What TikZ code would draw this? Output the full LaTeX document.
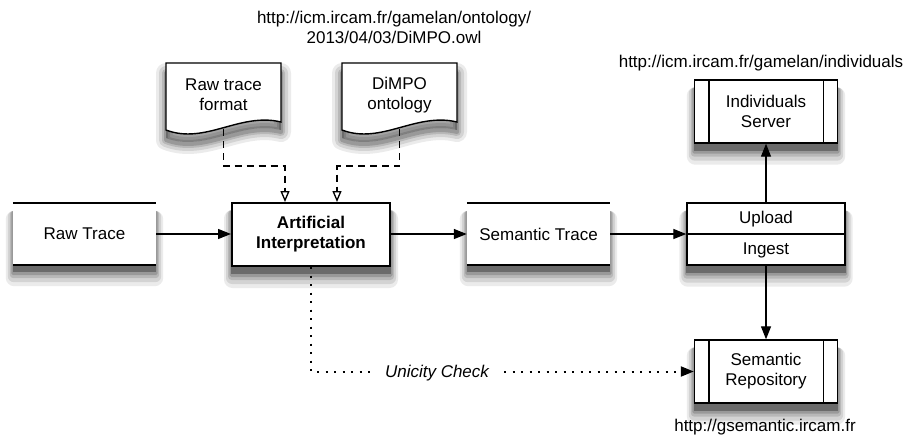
\documentclass[tikz,border=0pt]{standalone}
\usepackage{fontspec}
\setmainfont{Liberation Sans}
\usetikzlibrary{arrows.meta,backgrounds}
\newcommand{\rshad}[1]{%
  \foreach \w/\o in {14/0.08,10/0.1,6/0.13,3/0.17,0/0.3}{%
    \fill[black, fill opacity=\o, rounded corners=0.6*\w pt]
      ([shift={(-0.5*\w,8)}]#1.north west) rectangle ([shift={(0.5*\w,\w+7)}]#1.south east);}}
\newcommand{\docpath}[1]{(#1,63) -- (#1+115,63) -- (#1+115,122) .. controls (#1+74,112) and (#1+39,145) .. (#1,130) -- cycle}
\newcommand{\dshad}[1]{%
  \foreach \w/\o in {20/0.08,14/0.1,8/0.13,4/0.17}{%
    \draw[black, draw opacity=\o, line width=\w pt, line join=round, shift={(0,10)}] \docpath{#1};}
  \fill[black, fill opacity=0.3, shift={(0,8)}] \docpath{#1};}
\begin{document}
\begin{tikzpicture}[x=1pt,y=-1pt,
  font=\fontsize{17}{20}\selectfont,
  box/.style={draw, line width=1.4pt, fill=white, align=center, inner sep=0pt},
  store/.style={fill=white, align=center, inner sep=0pt, minimum width=143pt, minimum height=62pt},
  lbl/.style={align=center, inner sep=0pt},
  arr/.style={line width=1.3pt, -{Triangle[length=13pt,width=10pt]}},
  dsh/.style={line width=1.3pt, dash pattern=on 7pt off 5pt, -{Triangle[open,length=11pt,width=9pt]}},
  dot/.style={line width=2pt, dash pattern=on 2pt off 6.5pt, -{Triangle[length=13pt,width=10pt]}}
]
\useasboundingbox (0,0) rectangle (913,436);

% top URL
\node[lbl] (ourl) at (394,27) {http://icm.ircam.fr/gamelan/ontology/\\2013/04/03/DiMPO.owl};

% document shapes
\path[draw, line width=1.4pt, fill=white] \docpath{166};
\node[lbl] (rawfmt) at (223.5,95) {Raw trace\\format};
\coordinate (rawfmtb) at (223.5,129);
\path[draw, line width=1.4pt, fill=white] \docpath{342};
\node[lbl] (dimpo) at (399.5,95) {DiMPO\\ontology};
\coordinate (dimpob) at (399.5,129);

% main row
\node[store] (rawtrace) at (84.5,234) {Raw Trace};
\draw[line width=1.8pt] (rawtrace.north west) -- (rawtrace.north east);
\draw[line width=1.8pt] (rawtrace.south west) -- (rawtrace.south east);

\node[box, line width=2pt, minimum width=158pt, minimum height=63pt, font=\fontsize{17}{20}\selectfont\bfseries] (ai) at (311,234.5) {Artificial\\Interpretation};

\node[store] (semtrace) at (538.5,234) {Semantic Trace};
\draw[line width=1.8pt] (semtrace.north west) -- (semtrace.north east);
\draw[line width=1.8pt] (semtrace.south west) -- (semtrace.south east);

\node[box, minimum width=158pt, minimum height=62pt] (upin) at (766,234) {};
\draw[line width=1.4pt] (upin.west) -- (upin.east);
\node[lbl] (upload) at (766,219) {Upload};
\node[lbl] (ingest) at (766,250) {Ingest};

% servers
\node[box, minimum width=143pt, minimum height=63pt] (indserv) at (766,111.5) {Individuals\\Server};
\draw[line width=1.4pt] ([xshift=15pt]indserv.north west) -- ([xshift=15pt]indserv.south west);
\draw[line width=1.4pt] ([xshift=-15pt]indserv.north east) -- ([xshift=-15pt]indserv.south east);
\node[lbl] (iurl) at (761,63) {http://icm.ircam.fr/gamelan/individuals};

\node[box, minimum width=143pt, minimum height=63pt] (semrepo) at (766,371.5) {Semantic\\Repository};
\draw[line width=1.4pt] ([xshift=15pt]semrepo.north west) -- ([xshift=15pt]semrepo.south west);
\draw[line width=1.4pt] ([xshift=-15pt]semrepo.north east) -- ([xshift=-15pt]semrepo.south east);
\node[lbl] (surl) at (765,427) {http://gsemantic.ircam.fr};

% connectors
\draw[arr] (rawtrace.east) -- (ai.west |- rawtrace.east);
\draw[arr] (ai.east |- semtrace.west) -- (semtrace.west);
\draw[arr] (semtrace.east) -- (upin.west);
\draw[arr] (upin.north) -- (indserv.south);
\draw[arr] (upin.south) -- (semrepo.north);

\draw[dsh] (rawfmtb) -- (223.5,166) -| ([xshift=-26pt]ai.north);
\draw[dsh] (dimpob) -- (399.5,166) -| ([xshift=26pt]ai.north);

\draw[dot] (ai.south) |- (semrepo.west);
\node[lbl, fill=white, inner xsep=9pt, inner ysep=3pt, font=\fontsize{17}{20}\selectfont\itshape] (uc) at (437,373.5) {Unicity Check};

% shadows
\begin{pgfonlayer}{background}
  \rshad{rawtrace}
  \rshad{ai}
  \rshad{semtrace}
  \rshad{upin}
  \rshad{indserv}
  \rshad{semrepo}
  \dshad{166}
  \dshad{342}
\end{pgfonlayer}
\end{tikzpicture}
\end{document}
